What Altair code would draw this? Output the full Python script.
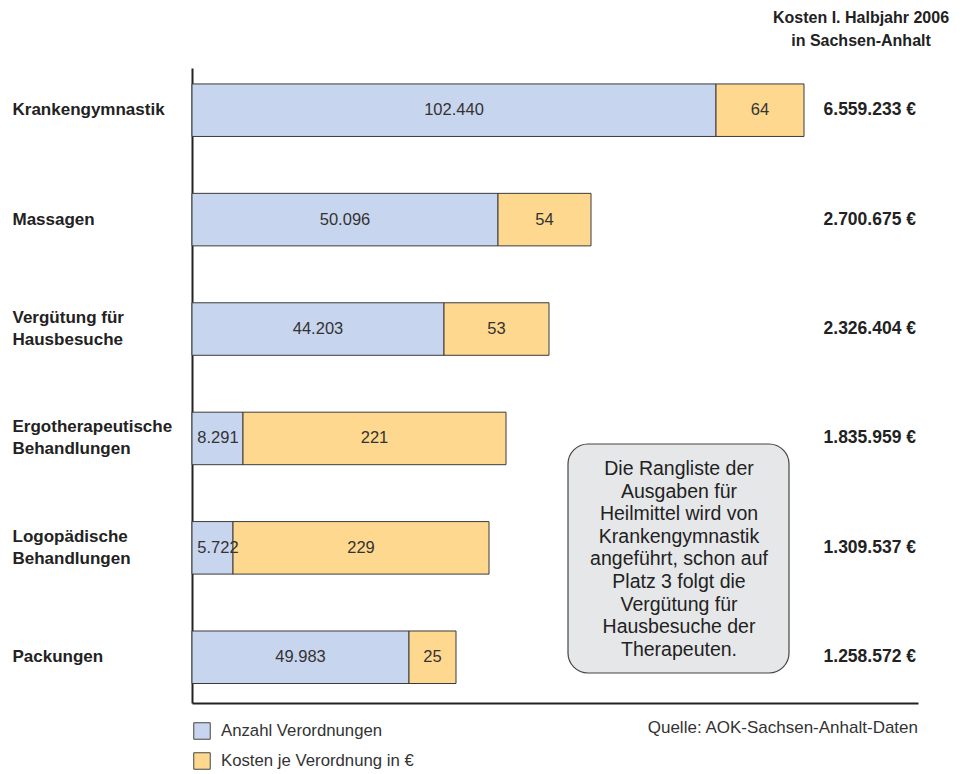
import altair as alt
import pandas as pd

# ---- data ----
categories = ["Krankengymnastik", "Massagen", "Vergütung für|Hausbesuche",
              "Ergotherapeutische|Behandlungen", "Logopädische|Behandlungen", "Packungen"]
anzahl_labels = ["102.440", "50.096", "44.203", "8.291", "5.722", "49.983"]
kosten_labels = ["64", "54", "53", "221", "229", "25"]
gesamt_labels = ["6.559.233 €", "2.700.675 €", "2.326.404 €", "1.835.959 €", "1.309.537 €", "1.258.572 €"]
# drawn segment lengths (as they appear in the graphic, arbitrary units)
anzahl_len = [524, 306, 252, 51, 41, 217]
kosten_len = [88, 93, 105, 263, 256, 47]
series = ["Anzahl Verordnungen", "Kosten je Verordnung in €"]

FONT = "Liberation Sans"
BLUE = "#c8d5ee"
ORANGE = "#fed88f"
W, H = 726, 635

rows = []
for c, al, kl, a, k in zip(categories, anzahl_labels, kosten_labels, anzahl_len, kosten_len):
    rows.append({"cat": c, "series": series[0], "start": 0, "end": a, "mid": a / 2, "label": al})
    rows.append({"cat": c, "series": series[1], "start": a, "end": a + k, "mid": a + k / 2, "label": kl})
df = pd.DataFrame(rows)
df_tot = pd.DataFrame({"cat": categories, "total": gesamt_labels})

yscale = alt.Scale(domain=categories, paddingInner=0.52, paddingOuter=0.162, align=0.45)
xscale = alt.Scale(domain=[0, W], nice=False, zero=True)

yaxis = alt.Axis(title=None, domain=True, domainColor="#222", domainWidth=2,
                 ticks=False, tickSize=0, labelPadding=180, labelAlign="left",
                 labelFont=FONT, labelFontSize=17, labelFontWeight="bold",
                 labelColor="#222", labelExpr="split(datum.label, '|')",
                 labelOffset={"condition": {"test": "indexof(datum.value, '|') >= 0", "value": -11},
                              "value": 0},
                 labelLineHeight=22, labelLimit=0, labelOverlap=False, labelBound=False)
xaxis = alt.Axis(title=None, domain=True, domainColor="#222", domainWidth=2,
                 ticks=False, labels=False, grid=False)

bars = alt.Chart(df).mark_bar(stroke="#3a3a3a", strokeWidth=1).encode(
    y=alt.Y("cat:N", sort=categories, scale=yscale, axis=yaxis),
    x=alt.X("start:Q", scale=xscale, axis=xaxis),
    x2="end:Q",
    color=alt.Color("series:N", sort=series,
                    scale=alt.Scale(domain=series, range=[BLUE, ORANGE]),
                    legend=alt.Legend(title=None, orient="none", legendX=1, legendY=654,
                                      symbolType="square", symbolSize=272,
                                      symbolStrokeColor="#444", symbolStrokeWidth=1,
                                      labelFont=FONT, labelFontSize=16.75, labelColor="#333",
                                      labelOffset=10, rowPadding=8, padding=0,
                                      labelLimit=0)),
)

# labels of narrow segments are kept inside the plot, as in the original
bar_labels = alt.Chart(df).transform_calculate(
    lx="max(datum.mid, 26)"
).mark_text(font=FONT, fontSize=16.5, color="#333").encode(
    y=alt.Y("cat:N", sort=categories, scale=yscale),
    x=alt.X("lx:Q", scale=xscale),
    text="label:N",
)

totals = alt.Chart(df_tot).mark_text(font=FONT, fontSize=17.5, fontWeight="bold",
                                     color="#222", align="right").encode(
    y=alt.Y("cat:N", sort=categories, scale=yscale),
    x=alt.value(724),
    text="total:N",
)

one = pd.DataFrame({"a": [0]})

header = alt.Chart(one).mark_text(font=FONT, fontSize=16, fontWeight="bold", color="#222",
                                  align="center", baseline="middle", lineHeight=23).encode(
    x=alt.value(669), y=alt.value(-50),
    text=alt.value(["Kosten I. Halbjahr 2006", "in Sachsen-Anhalt"]),
)

box = alt.Chart(one).mark_rect(fill="#e6e7e9", stroke="#444", strokeWidth=1.2,
                               cornerRadius=20).encode(
    x=alt.value(376), x2=alt.value(597), y=alt.value(376), y2=alt.value(605),
)

note_lines = ["Die Rangliste der", "Ausgaben für", "Heilmittel wird von",
              "Krankengymnastik", "angeführt, schon auf", "Platz 3 folgt die",
              "Vergütung für", "Hausbesuche der", "Therapeuten."]
note = alt.Chart(one).mark_text(font=FONT, fontSize=19.5, color="#222", align="center",
                                baseline="middle", lineHeight=22.6).encode(
    x=alt.value(487), y=alt.value(401), text=alt.value(note_lines),
)

quelle = alt.Chart(one).mark_text(font=FONT, fontSize=17, color="#333", align="right",
                                  baseline="middle").encode(
    x=alt.value(726), y=alt.value(660), text=alt.value("Quelle: AOK-Sachsen-Anhalt-Daten"),
)

chart = alt.layer(bars, bar_labels, totals, header, box, note, quelle).properties(
    width=W, height=H,
    autosize=alt.AutoSizeParams(type="none"),
    padding={"left": 192, "top": 68, "right": 45, "bottom": 71},
    background="white",
).configure_view(stroke=None)

chart.save("out.html", embed_options={"renderer": "svg", "actions": False})
